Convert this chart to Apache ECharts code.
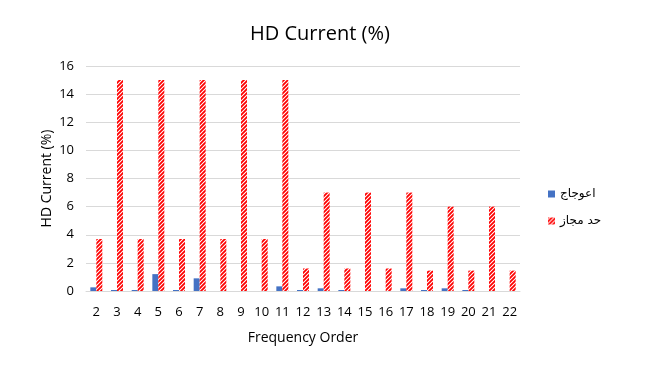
<!DOCTYPE html>
<html><head><meta charset="utf-8">
<script src="https://cdn.jsdelivr.net/npm/echarts@6/dist/echarts.min.js"></script>
<style>html,body{margin:0;padding:0;background:#fff}#c{width:646px;height:367px}</style>
</head><body><div id="c"></div>
<script>
const categories = ['2','3','4','5','6','7','8','9','10','11','12','13','14','15','16','17','18','19','20','21','22'];
const distortion = [0.26,0.07,0.07,1.2,0.07,0.9,0,0,0,0.33,0.07,0.19,0.07,0,0,0.19,0.07,0.19,0.07,0,0];
const limit = [3.7,15,3.7,15,3.7,15,3.7,15,3.7,15,1.6,7,1.6,7,1.6,7,1.45,6,1.45,6,1.45];
const yTicks = [0,2,4,6,8,10,12,14,16];

const pc = document.createElement('canvas');
pc.width = 4; pc.height = 4;
const ctx = pc.getContext('2d');
ctx.fillStyle = '#fff'; ctx.fillRect(0,0,4,4);
ctx.strokeStyle = '#ff0000'; ctx.lineWidth = 1.8;
ctx.beginPath();
ctx.moveTo(-1,5); ctx.lineTo(5,-1);
ctx.moveTo(-1,1); ctx.lineTo(1,-1);
ctx.moveTo(3,5); ctx.lineTo(5,3);
ctx.stroke();

const chart = echarts.init(document.getElementById('c'));
chart.setOption({
  animation:false,
  textStyle:{fontFamily:'Open Sans, Liberation Sans, sans-serif'},
  title:{text:'HD Current (%)',left:245,top:19,textStyle:{fontSize:20,fontWeight:'normal',color:'#000',fontFamily:'Open Sans, sans-serif'}},
  grid:{left:86,right:126,top:66,bottom:76},
  legend:{orient:'vertical',left:543,top:183,itemWidth:7,itemHeight:7,itemGap:15,
    textStyle:{fontSize:12,color:'#000',fontFamily:'DejaVu Sans, sans-serif'},
    data:[{name:'اعوجاج',icon:'rect'},{name:'حد مجاز',icon:'rect'}]},
  xAxis:{type:'category',data:categories,name:'Frequency Order',nameLocation:'middle',nameGap:40,nameMoveOverlap:false,
    nameTextStyle:{fontSize:14,color:'#000'},
    axisLine:{lineStyle:{color:'#d9d9d9'}},axisTick:{show:false},
    axisLabel:{fontSize:13,color:'#000',margin:15,interval:0}},
  yAxis:{type:'value',min:0,max:16,interval:2,name:'HD Current (%)',nameLocation:'middle',nameGap:32,nameMoveOverlap:false,
    nameTextStyle:{fontSize:14,color:'#000'},
    axisLabel:{fontSize:13,color:'#000',margin:12,formatter:v=>yTicks.includes(v)?String(v):''},
    splitLine:{lineStyle:{color:'#d9d9d9'}},axisLine:{show:false},axisTick:{show:false}},
  series:[
    {name:'اعوجاج',type:'bar',data:distortion,barGap:'0%',barCategoryGap:'42%',itemStyle:{color:'#4472c4'}},
    {name:'حد مجاز',type:'bar',data:limit,barGap:'0%',barCategoryGap:'42%',itemStyle:{color:{image:pc,repeat:'repeat'}}}
  ]
});
</script></body></html>
